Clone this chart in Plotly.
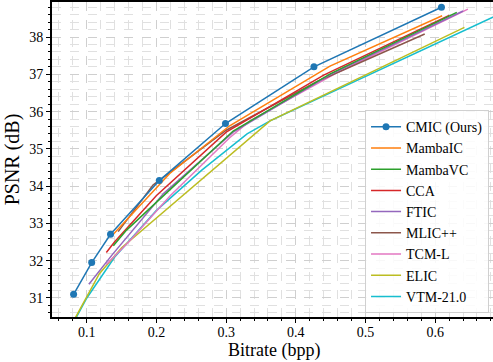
import plotly.graph_objects as go

# ---- data ----
names = ["CMIC (Ours)", "MambaIC", "MambaVC", "CCA", "FTIC", "MLIC++", "TCM-L", "ELIC", "VTM-21.0"]
colors = ["#1f77b4", "#ff7f0e", "#2ca02c", "#d62728", "#9467bd", "#8c564b", "#e377c2", "#bcbd22", "#17becf"]

cmic_x = [0.081, 0.107, 0.134, 0.204, 0.299, 0.426, 0.609]
cmic_y = [31.10, 31.95, 32.71, 34.15, 35.68, 37.20, 38.80]

mambaic_x = [0.135, 0.219, 0.305, 0.449, 0.610]
mambaic_y = [32.65, 34.34, 35.62, 37.22, 38.57]

mambavc_x = [0.138, 0.157, 0.219, 0.310, 0.450, 0.631]
mambavc_y = [32.40, 32.82, 33.90, 35.48, 37.02, 38.66]

cca_x = [0.128, 0.140, 0.200, 0.300, 0.440, 0.620]
cca_y = [32.22, 32.51, 33.75, 35.45, 36.98, 38.58]

ftic_x = [0.103, 0.136, 0.210, 0.310, 0.450, 0.640]
ftic_y = [31.37, 32.15, 33.80, 35.45, 37.00, 38.70]

mlic_x = [0.145, 0.195, 0.300, 0.430, 0.585]
mlic_y = [32.78, 34.03, 35.50, 36.80, 38.08]

tcm_x = [0.128, 0.160, 0.220, 0.305, 0.334, 0.460, 0.647]
tcm_y = [31.90, 32.50, 33.75, 35.30, 35.75, 37.05, 38.75]

elic_x = [0.080, 0.095, 0.118, 0.150, 0.363, 0.642]
elic_y = [30.35, 30.86, 31.65, 32.35, 35.75, 38.26]

vtm_x = [0.084, 0.100, 0.140, 0.200, 0.265, 0.330, 0.363, 0.520, 0.700]
vtm_y = [30.45, 31.00, 32.10, 33.35, 34.43, 35.40, 35.75, 37.12, 38.68]

xs = [cmic_x, mambaic_x, mambavc_x, cca_x, ftic_x, mlic_x, tcm_x, elic_x, vtm_x]
ys = [cmic_y, mambaic_y, mambavc_y, cca_y, ftic_y, mlic_y, tcm_y, elic_y, vtm_y]

x_ticks = [0.1, 0.2, 0.3, 0.4, 0.5, 0.6]
y_ticks = [31, 32, 33, 34, 35, 36, 37, 38]

FONT = "Liberation Serif"

fig = go.Figure()
# draw in reverse so CMIC is on top; keep legend order via legendrank
for i in reversed(range(len(names))):
    if i == 0:
        fig.add_trace(go.Scatter(x=xs[i], y=ys[i], name=names[i], mode="lines+markers",
                                 line=dict(color=colors[i], width=1.5),
                                 marker=dict(size=7, color=colors[i]),
                                 legendrank=i + 1))
    else:
        fig.add_trace(go.Scatter(x=xs[i], y=ys[i], name=names[i], mode="lines",
                                 line=dict(color=colors[i], width=1.5),
                                 legendrank=i + 1))

axis_common = dict(
    showline=True, linecolor="black", linewidth=2,
    ticks="outside", ticklen=4, tickwidth=1, tickcolor="black",
    showgrid=True, gridcolor="#cfcfcf", griddash="dash", gridwidth=1,
    zeroline=False,
    tickfont=dict(family=FONT, size=14, color="black"),
)

fig.update_layout(
    width=493, height=362,
    margin=dict(l=52, r=0, t=2, b=45),
    plot_bgcolor="white", paper_bgcolor="white",
    font=dict(family=FONT, color="black"),
    xaxis=dict(
        range=[0.05, 0.683], tickvals=x_ticks, ticktext=[f"{v:.1f}" for v in x_ticks],
        mirror=True, ticklabelstandoff=-3,
        minor=dict(dtick=0.02, tick0=0, ticks="outside", ticklen=2, tickcolor="black",
                   showgrid=True, gridcolor="#e0e0e0", griddash="dash", gridwidth=1),
        **axis_common,
    ),
    yaxis=dict(
        range=[30.49, 38.94], tickvals=y_ticks, ticktext=[str(v) for v in y_ticks],
        mirror=False,
        minor=dict(dtick=0.2, tick0=0, ticks="outside", ticklen=2, tickcolor="black",
                   showgrid=True, gridcolor="#e0e0e0", griddash="dash", gridwidth=1),
        title=dict(text="PSNR (dB)", font=dict(family=FONT, size=20), standoff=4),
        **axis_common,
    ),
    legend=dict(
        x=0.991, xanchor="right", y=0.012, yanchor="bottom",
        bgcolor="rgba(255,255,255,0.85)", bordercolor="#d0d0d0", borderwidth=1,
        font=dict(family=FONT, size=14, color="black"),
        tracegroupgap=0, itemwidth=30,
    ),
    showlegend=True,
    annotations=[dict(
        text="Bitrate (bpp)", xref="paper", yref="paper", x=0.503, y=-0.142,
        xanchor="center", yanchor="bottom", showarrow=False, borderpad=0,
        font=dict(family=FONT, size=18, color="black"),
    )],
)

fig.write_html("out.html")
